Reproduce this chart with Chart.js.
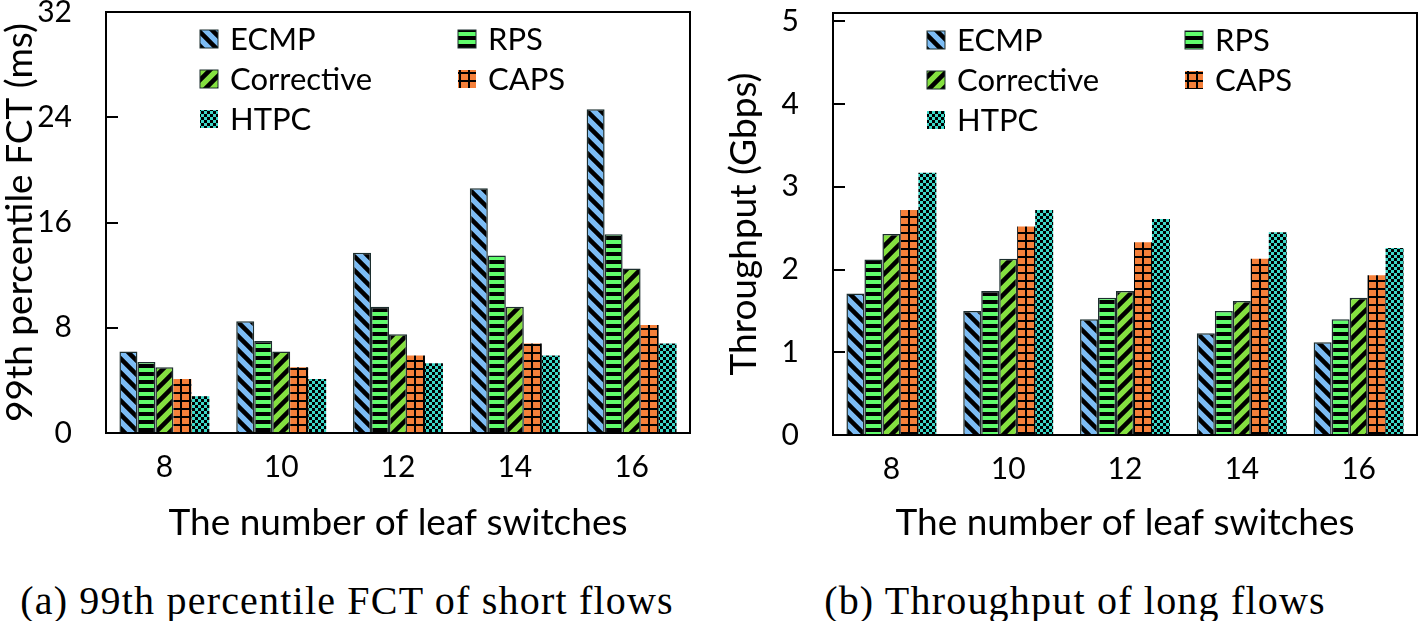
<!DOCTYPE html>
<html>
<head>
<meta charset="utf-8">
<script src="https://cdn.jsdelivr.net/npm/chart.js@4.4.0/dist/chart.umd.min.js"></script>
<style>
  body { margin: 0; background: #fff; width: 1418px; height: 621px; position: relative; overflow: hidden; }
  #fct { position: absolute; left: 0; top: 0; }
  #thr { position: absolute; left: 710px; top: 0; }
  .caption { position: absolute; top: 577px; font-family: 'Liberation Serif', serif; font-size: 40px; line-height: 48px;
             letter-spacing: 1.2px; color: #000; white-space: nowrap; transform: translateX(-50%); }
</style>
</head>
<body>
<canvas id="fct" width="710" height="545"></canvas>
<canvas id="thr" width="708" height="545"></canvas>
<div class="caption" style="left:347px">(a) 99th percentile FCT of short flows</div>
<div class="caption" style="left:1075px">(b) Throughput of long flows</div>
<script>
// categories
const leafSwitches = ['8', '10', '12', '14', '16'];
const schemes = ['ECMP', 'RPS', 'Corrective', 'CAPS', 'HTPC'];

// (a) 99th percentile FCT of short flows (ms)
const fctECMP       = [6.2, 8.5, 13.7, 18.6, 24.6];
const fctRPS        = [5.4, 7.0, 9.6, 13.5, 15.1];
const fctCorrective = [5.0, 6.2, 7.5, 9.6, 12.5];
const fctCAPS       = [4.1, 5.0, 5.9, 6.8, 8.2];
const fctHTPC       = [2.8, 4.1, 5.3, 5.9, 6.8];
const fctTicks = [0, 8, 16, 24, 32];

// (b) throughput of long flows (Gbps)
const thrECMP       = [1.71, 1.50, 1.40, 1.23, 1.12];
const thrRPS        = [2.12, 1.74, 1.66, 1.50, 1.40];
const thrCorrective = [2.43, 2.13, 1.74, 1.62, 1.66];
const thrCAPS       = [2.72, 2.52, 2.33, 2.13, 1.93];
const thrHTPC       = [3.17, 2.72, 2.61, 2.45, 2.26];
const thrTicks = [0, 1, 2, 3, 4, 5];

const FONT = 'Lato, "Open Sans", sans-serif';

// fill patterns like the original excel bars
function makePattern(kind) {
  const c = document.createElement('canvas');
  const g = c.getContext('2d');
  if (kind === 'ECMP' || kind === 'Corrective') {
    const n = 14;
    c.width = c.height = n;
    g.fillStyle = kind === 'ECMP' ? '#7cbcf4' : '#84e040';
    g.fillRect(0, 0, n, n);
    g.strokeStyle = '#000';
    g.lineWidth = 4.5;
    g.beginPath();
    if (kind === 'ECMP') {
      g.moveTo(-n, -n); g.lineTo(2 * n, 2 * n);
      g.moveTo(-n, 0);  g.lineTo(n, 2 * n);
      g.moveTo(0, -n);  g.lineTo(2 * n, n);
    } else {
      g.moveTo(-n, 2 * n); g.lineTo(2 * n, -n);
      g.moveTo(-n, n);     g.lineTo(n, -n);
      g.moveTo(0, 2 * n);  g.lineTo(2 * n, 0);
    }
    g.stroke();
  } else if (kind === 'RPS') {
    c.width = 8; c.height = 8;
    g.fillStyle = '#60fc6c';
    g.fillRect(0, 0, 8, 8);
    g.fillStyle = '#000';
    g.fillRect(0, 4, 8, 4);
  } else if (kind === 'CAPS') {
    c.width = 9; c.height = 8;
    g.fillStyle = '#f5803a';
    g.fillRect(0, 0, 9, 8);
    g.fillStyle = '#000';
    g.fillRect(0, 0, 2, 8);
    g.fillRect(0, 0, 9, 2);
  } else {
    c.width = c.height = 6;
    g.fillStyle = '#3cd8c8';
    g.fillRect(0, 0, 6, 6);
    g.fillStyle = '#000';
    g.fillRect(0, 0, 3, 3);
    g.fillRect(3, 3, 3, 3);
  }
  return g.createPattern(c, 'repeat');
}

const patterns = schemes.map(makePattern);
const borders = ['#1c2e2e', '#1c2e2e', '#1c2e2e', '#f5803a', '#3cd8c8'];

function makeDatasets(series) {
  return series.map((vals, i) => ({
    label: schemes[i],
    data: vals,
    backgroundColor: patterns[i],
    borderColor: borders[i],
    borderWidth: i < 3 ? 1.5 : 0,
    barPercentage: 1.0,
    categoryPercentage: 0.77
  }));
}

// legend drawn inside the plot, two columns
const boxLegend = {
  id: 'boxLegend',
  afterDatasetsDraw(chart, args, opts) {
    const { ctx, chartArea } = chart;
    ctx.save();
    ctx.font = opts.font;
    ctx.textBaseline = 'middle';
    chart.data.datasets.forEach((ds, i) => {
      const col = i % 2, row = Math.floor(i / 2);
      const x = chartArea.left + opts.x + col * opts.colGap;
      const y = chartArea.top + opts.y + row * opts.rowGap;
      ctx.fillStyle = ds.backgroundColor;
      ctx.fillRect(x, y - 9, 18, 18);
      ctx.strokeStyle = '#1c2e2e';
      ctx.lineWidth = 1;
      if (i < 3) ctx.strokeRect(x, y - 9, 18, 18);
      ctx.fillStyle = '#000';
      ctx.fillText(ds.label, x + 30, y + 1);
    });
    ctx.restore();
  }
};

// box around the plot and inward ticks on y
const frame = {
  id: 'frame',
  afterDraw(chart) {
    const { ctx, chartArea: a, scales } = chart;
    ctx.save();
    ctx.strokeStyle = '#000';
    ctx.lineWidth = 2;
    ctx.strokeRect(a.left, a.top, a.right - a.left, a.bottom - a.top);
    scales.y.ticks.forEach(t => {
      const py = Math.round(scales.y.getPixelForValue(t.value));
      ctx.beginPath();
      ctx.moveTo(a.left, py);
      ctx.lineTo(a.left + 12, py);
      ctx.stroke();
    });
    ctx.restore();
  }
};

function buildChart(id, series, yTitle, yMax, yTicks, lay) {
  return new Chart(document.getElementById(id), {
    type: 'bar',
    data: { labels: leafSwitches, datasets: makeDatasets(series) },
    plugins: [boxLegend, frame],
    options: {
      responsive: false,
      animation: false,
      layout: { padding: { top: lay.top, right: lay.right, left: 0, bottom: 0 } },
      plugins: {
        legend: { display: false },
        tooltip: { enabled: false },
        boxLegend: { font: '31px ' + FONT, x: 94, y: 27, colGap: 258, rowGap: 40 }
      },
      scales: {
        x: {
          grid: { display: false, drawTicks: false },
          border: { display: false },
          ticks: { color: '#000', font: { family: FONT, size: 30 }, padding: 16 },
          title: { display: true, text: 'The number of leaf switches', color: '#000',
                   font: { family: FONT, size: 37 }, padding: { top: 0, bottom: 0 } },
          afterFit: s => { s.height = lay.xH; s.paddingLeft = 0; s.paddingRight = 0; }
        },
        y: {
          min: 0,
          max: yMax,
          grid: { display: false, drawTicks: false },
          border: { display: false },
          afterBuildTicks: s => { s.ticks = yTicks.map(v => ({ value: v })); },
          ticks: { color: '#000', font: { family: FONT, size: 30 }, padding: 34 },
          title: { display: true, text: yTitle, color: '#000',
                   font: { family: FONT, size: 37 }, padding: { top: lay.titlePad, bottom: 0 } },
          afterFit: s => { s.width = lay.yW; s.paddingTop = 0; s.paddingBottom = 0; }
        }
      }
    }
  });
}

buildChart('fct', [fctECMP, fctRPS, fctCorrective, fctCAPS, fctHTPC],
  '99th percentile FCT (ms)', 32, fctTicks,
  { top: 12, right: 20, xH: 112, yW: 106, titlePad: -2 });

buildChart('thr', [thrECMP, thrRPS, thrCorrective, thrCAPS, thrHTPC],
  'Throughput (Gbps)', 5.1, thrTicks,
  { top: 13, right: 1, xH: 110, yW: 123, titlePad: 12 });
</script>
</body>
</html>
